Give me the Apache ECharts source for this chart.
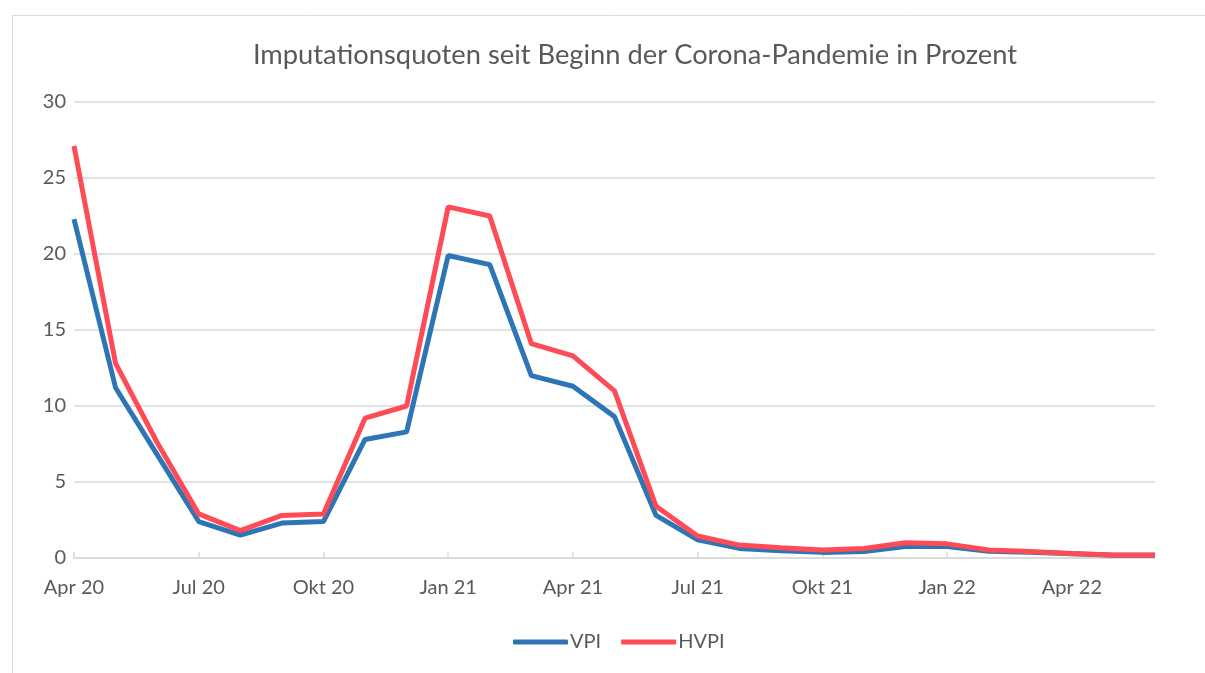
<!DOCTYPE html>
<html>
<head>
<meta charset="utf-8">
<script src="https://cdn.jsdelivr.net/npm/echarts@6/dist/echarts.min.js"></script>
<style>
  html, body { margin: 0; padding: 0; background: #fff; }
  #chart { width: 1205px; height: 673px; }
</style>
</head>
<body>
<div id="chart"></div>
<script>
// Monate Apr 20 .. Jun 22
var months = ["Apr 20", "Mai 20", "Jun 20", "Jul 20", "Aug 20", "Sep 20", "Okt 20", "Nov 20", "Dez 20",
  "Jan 21", "Feb 21", "Mrz 21", "Apr 21", "Mai 21", "Jun 21", "Jul 21", "Aug 21", "Sep 21",
  "Okt 21", "Nov 21", "Dez 21", "Jan 22", "Feb 22", "Mrz 22", "Apr 22", "Mai 22", "Jun 22"];

var vpi = [22.3, 11.2, 6.8, 2.4, 1.5, 2.3, 2.4, 7.8, 8.3,
  19.9, 19.3, 12.0, 11.3, 9.3, 2.8, 1.2, 0.63, 0.48,
  0.37, 0.42, 0.75, 0.75, 0.45, 0.38, 0.28, 0.18, 0.18];

var hvpi = [27.1, 12.8, 7.6, 2.9, 1.8, 2.8, 2.9, 9.2, 10.0,
  23.1, 22.5, 14.1, 13.3, 11.0, 3.4, 1.45, 0.85, 0.68,
  0.53, 0.63, 1.0, 0.93, 0.53, 0.42, 0.3, 0.2, 0.2];

var yTicks = [0, 5, 10, 15, 20, 25, 30];

var font = "Lato, 'Open Sans', sans-serif";
var grau = "#595959";

var option = {
  animation: false,
  textStyle: { fontFamily: font },
  graphic: [
    { // Rahmen des Diagrammbereichs
      type: "rect",
      left: 10, top: 13,
      shape: { width: 1400, height: 900 },
      style: { fill: "none", stroke: "#d9d9d9", lineWidth: 1 },
      silent: true
    }
  ],
  title: {
    text: "Imputationsquoten seit Beginn der Corona-Pandemie in Prozent",
    left: 630, top: 37, textAlign: "center",
    textStyle: { color: grau, fontSize: 27.3, fontWeight: "normal", fontFamily: font }
  },
  legend: {
    bottom: 16,
    left: 508,
    itemWidth: 55,
    itemHeight: 5,
    itemGap: 20,
    icon: "roundRect",
    textStyle: { color: grau, fontSize: 20, fontFamily: font, padding: [0, 0, 0, -3] },
    data: ["VPI", "HVPI"]
  },
  grid: { left: 74, right: 50, top: 102, bottom: 115 },
  xAxis: {
    type: "category",
    data: months,
    boundaryGap: false,
    axisLine: { lineStyle: { color: "#d9d9d9", width: 1.5 } },
    axisTick: { show: true, inside: true, interval: 2, length: 6, lineStyle: { color: "#d9d9d9", width: 1.5 } },
    axisLabel: { interval: 2, color: grau, fontSize: 20, margin: 20, fontFamily: font },
    splitLine: { show: false }
  },
  yAxis: {
    type: "value",
    min: yTicks[0],
    max: yTicks[yTicks.length - 1],
    interval: 5,
    axisLine: { show: false },
    axisTick: { show: false },
    axisLabel: { color: grau, fontSize: 20, margin: 8, fontFamily: font },
    splitLine: { lineStyle: { color: "#d9d9d9", width: 1.5 } }
  },
  series: [
    {
      name: "VPI", type: "line", data: vpi,
      symbol: "none",
      color: "#2E75B6",
      lineStyle: { width: 5, color: "#2E75B6" }
    },
    {
      name: "HVPI", type: "line", data: hvpi,
      symbol: "none",
      color: "#FF4B55",
      lineStyle: { width: 5, color: "#FF4B55" }
    }
  ]
};

var chart = echarts.init(document.getElementById("chart"));
chart.setOption(option);
</script>
</body>
</html>
